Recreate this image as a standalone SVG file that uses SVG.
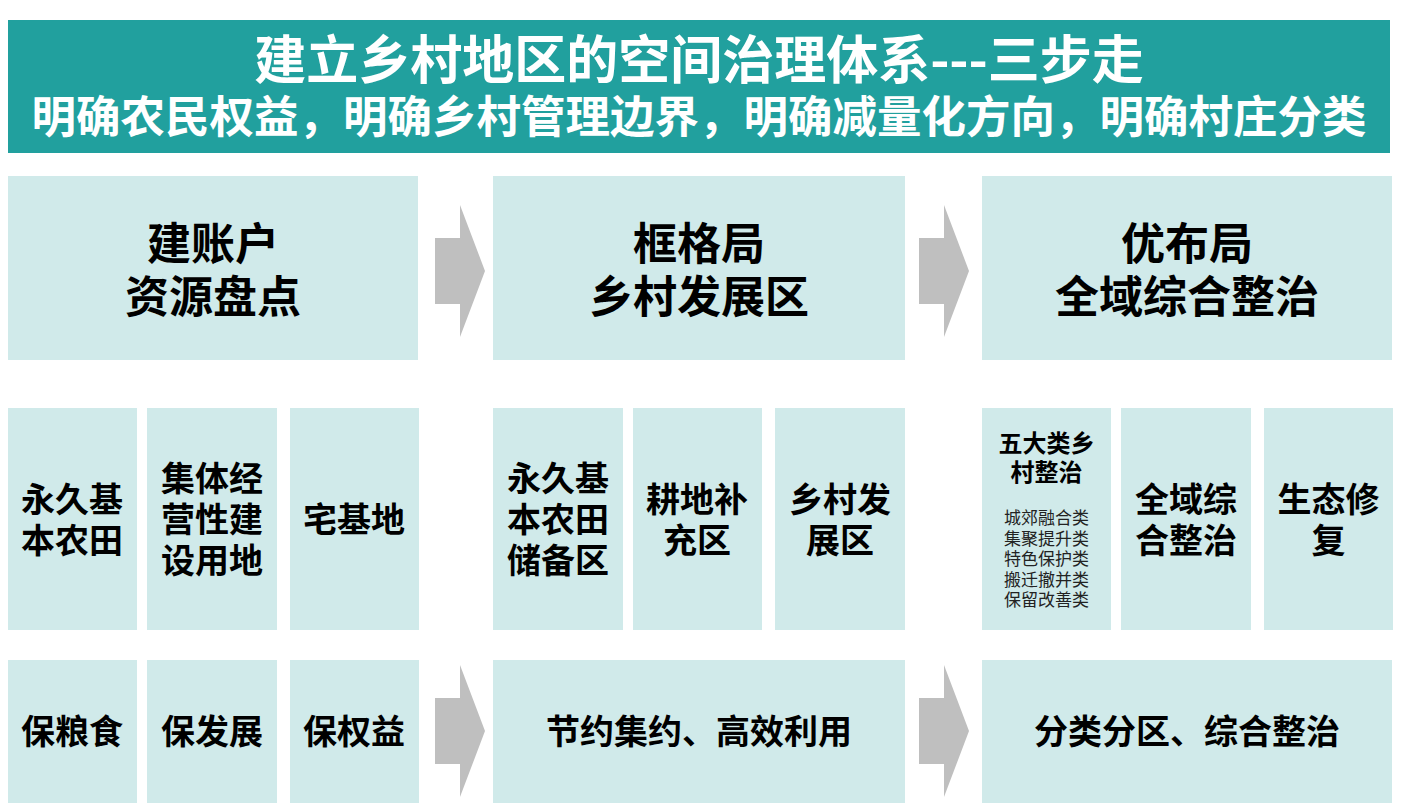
<svg xmlns="http://www.w3.org/2000/svg" width="1408" height="811" viewBox="0 0 1408 811">
<style>
.box{fill:#D0EAEA}
.arrow{fill:#BFBFBF}
text{font-family:"Noto Sans CJK SC","Liberation Sans",sans-serif;text-anchor:middle;fill:#000;font-weight:bold}
.h1{font-size:52px;fill:#fff}
.h2{font-size:44.5px;fill:#fff}
.t1{font-size:44px}
.t2{font-size:34px}
.t3{font-size:24px}
.t4{font-size:17px;font-weight:normal;fill:#222}
</style>
<rect width="1408" height="811" fill="#fff"/>
<g id="header">
<rect x="8" y="20" width="1382" height="133" fill="#21A09E"/>
<text class="h1" x="699" y="79">建立乡村地区的空间治理体系---三步走</text>
<text class="h2" x="699" y="133">明确农民权益，明确乡村管理边界，明确减量化方向，明确村庄分类</text>
</g>
<g id="step1">
<rect class="box" x="8" y="176" width="410" height="184"/>
<text class="t1"><tspan x="213" y="260">建账户</tspan><tspan x="213" y="313">资源盘点</tspan></text>
</g>
<g id="step2">
<rect class="box" x="493" y="176" width="412" height="184"/>
<text class="t1"><tspan x="699" y="260">框格局</tspan><tspan x="699" y="313">乡村发展区</tspan></text>
</g>
<g id="step3">
<rect class="box" x="982" y="176" width="410" height="184"/>
<text class="t1"><tspan x="1187" y="260">优布局</tspan><tspan x="1187" y="313">全域综合整治</tspan></text>
</g>
<g id="a1">
<rect class="box" x="8" y="408" width="129" height="222"/>
<text class="t2"><tspan x="72" y="512">永久基</tspan><tspan x="72" y="553">本农田</tspan></text>
</g>
<g id="a2">
<rect class="box" x="147" y="408" width="130" height="222"/>
<text class="t2"><tspan x="212" y="491">集体经</tspan><tspan x="212" y="532">营性建</tspan><tspan x="212" y="573">设用地</tspan></text>
</g>
<g id="a3">
<rect class="box" x="290" y="408" width="129" height="222"/>
<text class="t2" x="354" y="532">宅基地</text>
</g>
<g id="b1">
<rect class="box" x="493" y="408" width="130" height="222"/>
<text class="t2"><tspan x="558" y="491">永久基</tspan><tspan x="558" y="532">本农田</tspan><tspan x="558" y="573">储备区</tspan></text>
</g>
<g id="b2">
<rect class="box" x="633" y="408" width="129" height="222"/>
<text class="t2"><tspan x="697" y="512">耕地补</tspan><tspan x="697" y="553">充区</tspan></text>
</g>
<g id="b3">
<rect class="box" x="775" y="408" width="130" height="222"/>
<text class="t2"><tspan x="840" y="512">乡村发</tspan><tspan x="840" y="553">展区</tspan></text>
</g>
<g id="c1">
<rect class="box" x="982" y="408" width="129" height="222"/>
<text class="t3"><tspan x="1046.5" y="452">五大类乡</tspan><tspan x="1046.5" y="481">村整治</tspan></text>
<text class="t4"><tspan x="1046.5" y="524">城郊融合类</tspan><tspan x="1046.5" y="544.5">集聚提升类</tspan><tspan x="1046.5" y="565">特色保护类</tspan><tspan x="1046.5" y="585.5">搬迁撤并类</tspan><tspan x="1046.5" y="606">保留改善类</tspan></text>
</g>
<g id="c2">
<rect class="box" x="1121" y="408" width="130" height="222"/>
<text class="t2"><tspan x="1186" y="512">全域综</tspan><tspan x="1186" y="553">合整治</tspan></text>
</g>
<g id="c3">
<rect class="box" x="1264" y="408" width="129" height="222"/>
<text class="t2"><tspan x="1328.5" y="512">生态修</tspan><tspan x="1328.5" y="553">复</tspan></text>
</g>
<g id="d1">
<rect class="box" x="8" y="660" width="129" height="143"/>
<text class="t2" x="72" y="744">保粮食</text>
</g>
<g id="d2">
<rect class="box" x="147" y="660" width="130" height="143"/>
<text class="t2" x="212" y="744">保发展</text>
</g>
<g id="d3">
<rect class="box" x="290" y="660" width="129" height="143"/>
<text class="t2" x="354" y="744">保权益</text>
</g>
<g id="e1">
<rect class="box" x="493" y="660" width="412" height="143"/>
<text class="t2" x="699" y="744">节约集约、高效利用</text>
</g>
<g id="f1">
<rect class="box" x="982" y="660" width="410" height="143"/>
<text class="t2" x="1187" y="744">分类分区、综合整治</text>
</g>
<g id="connectors">
<polygon class="arrow" points="435,238 460,238 460,205 485,271 460,337 460,304 435,304"/>
<polygon class="arrow" points="919,238 944,238 944,205 969,271 944,337 944,304 919,304"/>
<polygon class="arrow" points="435,698 460,698 460,665 485,731 460,797 460,764 435,764"/>
<polygon class="arrow" points="919,698 944,698 944,665 969,731 944,797 944,764 919,764"/>
</g>
</svg>
